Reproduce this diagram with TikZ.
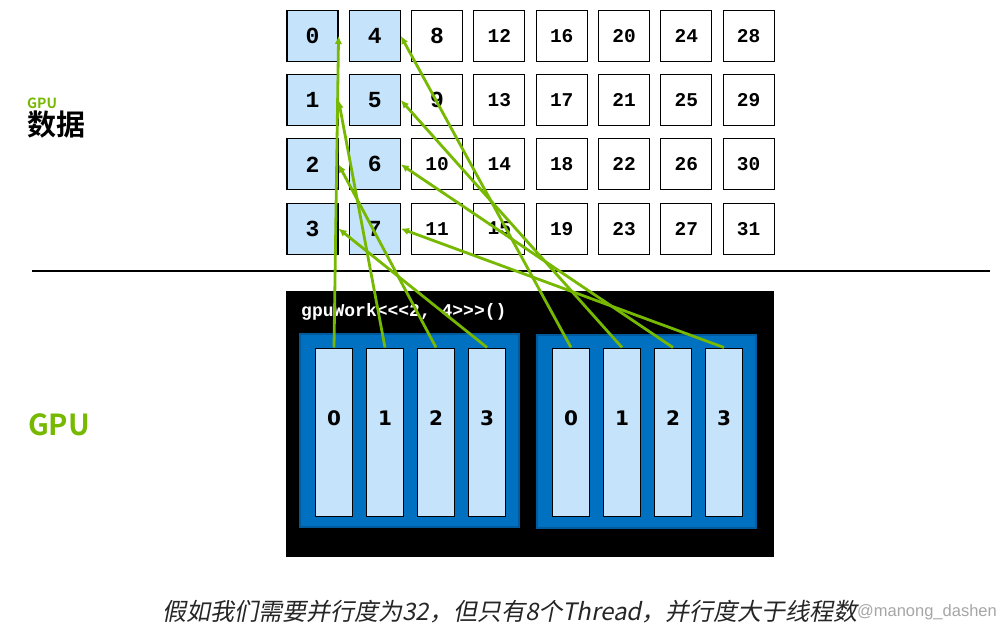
\documentclass[tikz,border=0pt]{standalone}
\usepackage{fontspec}
\usetikzlibrary{arrows.meta}
\newfontfamily\cjk{Noto Sans CJK SC}
\newfontfamily\cjkb{Noto Sans CJK SC Bold}
\newfontfamily\cjkit{Noto Sans CJK SC}[FakeSlant=0.2]
\newfontfamily\monob{Liberation Mono Bold}
\newfontfamily\dvb{DejaVu Sans Bold}
\newfontfamily\wmfont{Liberation Sans}
\definecolor{nvgreen}{HTML}{76B900}
\definecolor{lightblue}{HTML}{C5E3FB}
\definecolor{blockblue}{HTML}{0070C0}
\definecolor{blockedge}{HTML}{005A9E}
\tikzset{
  cellbox/.style={draw=black, line width=1.1pt, minimum width=51pt, minimum height=51pt, inner sep=0pt},
  hotcell/.style={cellbox, fill=lightblue},
  coldcell/.style={cellbox, fill=white},
  onedigit/.style={font=\monob\fontsize{23}{24}\selectfont},
  twodigit/.style={font=\monob\fontsize{19.5}{22}\selectfont},
  blockbox/.style={draw=blockedge, line width=2pt, fill=blockblue, minimum width=219pt, minimum height=193pt, inner sep=0pt},
  threadbox/.style={draw=black, line width=1pt, fill=lightblue, minimum width=37pt, minimum height=168pt, inner sep=0pt},
  threadlabel/.style={font=\dvb\fontsize{20}{24}\selectfont, inner sep=0pt},
  arr/.style={draw=nvgreen, line width=2.8pt, -{Latex[length=8pt,width=7.5pt]}},
}
\begin{document}
\begin{tikzpicture}[x=1pt,y=-1pt]
\useasboundingbox[fill=white] (0,0) rectangle (1008,634);

% left labels
\node[anchor=base west, inner sep=0pt, text=nvgreen, font=\cjkb\fontsize{14}{16}\selectfont] (gpusmall) at (27,108.5) {GPU};
\node[anchor=base west, inner sep=0pt, font=\cjkb\fontsize{29}{32}\selectfont] (shuju) at (27,135) {数据};
\node[anchor=base west, inner sep=0pt, text=nvgreen, font=\cjkb\fontsize{29}{34}\selectfont] (gpubig) at (28,435) {GPU};

% data grid
\foreach \c in {0,...,7}{
  \foreach \r in {0,...,3}{
    \pgfmathtruncatemacro{\n}{\c*4+\r}
    \pgfmathsetmacro{\cx}{312.5+62.3*\c}
    \pgfmathsetmacro{\cy}{36+64.2*\r}
    \ifnum\c<2
      \node[hotcell, onedigit] (c\n) at (\cx,\cy) {\n};
    \else
      \ifnum\n<10
        \node[coldcell, onedigit] (c\n) at (\cx,\cy) {\n};
      \else
        \node[coldcell, twodigit] (c\n) at (\cx,\cy) {\n};
      \fi
    \fi
  }
}

% separator line
\coordinate (sepL) at (32,271);
\coordinate (sepR) at (990,271);
\draw[line width=1.3pt] (sepL) -- (sepR);

% kernel box
\node[fill=black, minimum width=488pt, minimum height=266pt, inner sep=0pt] (kernel) at (530,424) {};
\node[anchor=west, inner sep=0pt, text=white, font=\monob\fontsize{18}{20}\selectfont] (kname) at (301,312) {gpuWork<<<2, 4>>>()};

% blocks
\node[blockbox] (b0) at (409.5,430.5) {};
\node[blockbox] (b1) at (646.5,431) {};

% threads
\foreach \b/\bx in {0/409.5,1/646.5}{
  \foreach \t/\off in {0/-75.5,1/-24.5,2/26.5,3/77.5}{
    \pgfmathsetmacro{\tx}{\bx+\off}
    \node[threadbox] (t\b\t) at (\tx,432) {};
    \node[threadlabel] (tl\b\t) at ([yshift=14pt]t\b\t.center) {\t};
  }
}

% arrows
\foreach \b in {0,1}{
  \foreach \t in {0,...,3}{
    \pgfmathtruncatemacro{\n}{\b*4+\t}
    \draw[arr] (t\b\t.north) -- (c\n.east);
  }
}

% caption and watermark
\node[inner sep=0pt, text=black!85, font=\cjkit\fontsize{24}{26}\selectfont] (caption) at (510,612) {假如我们需要并行度为32，但只有8个Thread，并行度大于线程数};
\node[anchor=east, inner sep=0pt, text=black!35, font=\wmfont\fontsize{16.5}{20}\selectfont] (wm) at (997,612) {@manong\_dashen};
\end{tikzpicture}
\end{document}
